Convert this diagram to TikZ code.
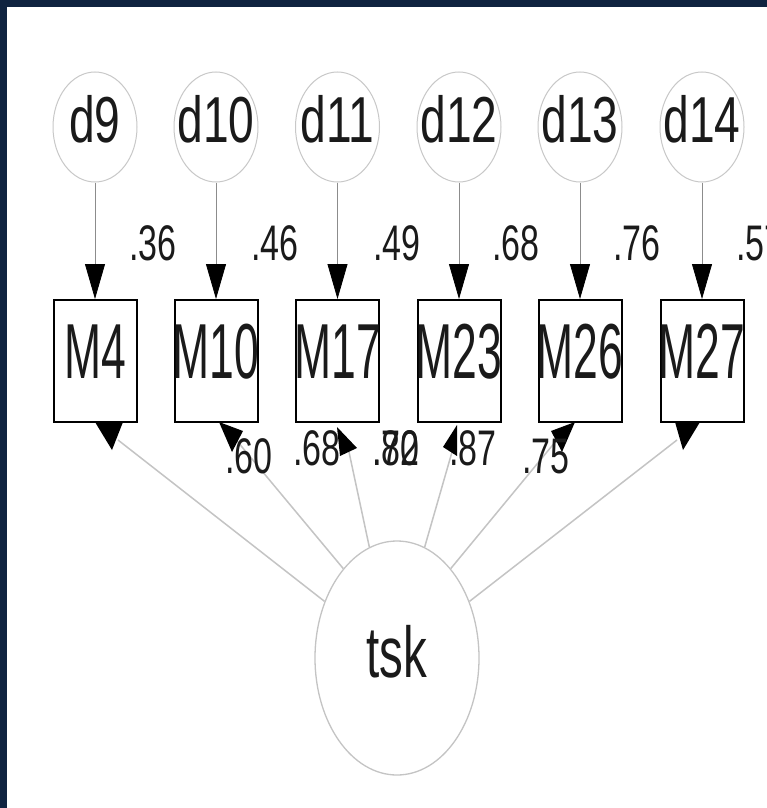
\documentclass[tikz,border=0pt]{standalone}
\usepackage{fontspec}
\usepackage{graphicx}
\setmainfont{Liberation Sans}
\usetikzlibrary{shapes.geometric,arrows.meta}
\definecolor{navy}{HTML}{0F2340}
\definecolor{ink}{HTML}{1A1A1A}
\definecolor{dline}{HTML}{C8C8C8}
\definecolor{vline}{HTML}{8C8C8C}
\definecolor{tline}{HTML}{C4C4C4}
\newcommand{\sqtxt}[4]{\makebox[0pt]{\smash{\raisebox{#2}{\fontsize{#3}{#3}\selectfont\scalebox{#1}[1]{#4}}}}}
\newcommand{\dlbl}[1]{\sqtxt{0.71}{-15pt}{65}{#1}}
\newcommand{\mlbl}[1]{\sqtxt{0.57}{-17pt}{78}{#1}}
\newcommand{\nlbl}[1]{\scalebox{0.68}[1]{#1}}
\begin{document}
\begin{tikzpicture}[x=1pt,y=-1pt,
  dnode/.style={ellipse, draw=dline, line width=1pt, minimum width=84pt, minimum height=110pt, inner sep=0pt, text=ink},
  mbox/.style={rectangle, draw=black, line width=2pt, fill=white, minimum width=83pt, minimum height=122pt, inner sep=0pt, text=ink},
  lnode/.style={ellipse, draw=tline, line width=1.3pt, minimum width=164pt, minimum height=234pt, inner sep=0pt, text=ink},
  num/.style={anchor=base, inner sep=0pt, text=ink, font=\fontsize{50}{50}\selectfont},
  darr/.style={draw=vline, line width=0.8pt, -{Triangle[length=35pt,width=20pt,color=black]}},
  tl/.style={draw=tline, line width=1.5pt},
  head/.style={fill=black}
]
\fill[navy] (0,0) rectangle (767,808);
\fill[white] (7,7) rectangle (767,808);
\useasboundingbox (0,0) rectangle (767,808);
\clip (0,0) rectangle (767,808);

% error terms
\node[dnode] (d9)  at (95,127)  {\dlbl{d9}};
\node[dnode] (d10) at (216,127) {\dlbl{d10}};
\node[dnode] (d11) at (337.5,127) {\dlbl{d11}};
\node[dnode] (d12) at (459,127) {\dlbl{d12}};
\node[dnode] (d13) at (580,127) {\dlbl{d13}};
\node[dnode] (d14) at (702,127) {\dlbl{d14}};

% latent
\node[lnode] (tsk) at (397,658) {\sqtxt{0.66}{-19pt}{72}{tsk}};

% line ends near boxes
\coordinate (e4)  at (118,440);
\coordinate (e10) at (237,441);
\coordinate (e17) at (349,452);
\coordinate (e23) at (452,452);
\coordinate (e26) at (556,441);
\coordinate (e27) at (677,440);
\draw[tl] (tsk.142) -- (e4);
\draw[tl] (tsk.121) -- (e10);
\draw[tl] (tsk.104) -- (e17);
\draw[tl] (tsk.76)  -- (e23);
\draw[tl] (tsk.59)  -- (e26);
\draw[tl] (tsk.38)  -- (e27);

% observed
\node[mbox] (m4)  at (95,361)  {\mlbl{M4}};
\node[mbox] (m10) at (216,361) {\mlbl{M10}};
\node[mbox] (m17) at (337.5,361) {\mlbl{M17}};
\node[mbox] (m23) at (459,361) {\mlbl{M23}};
\node[mbox] (m26) at (580,361) {\mlbl{M26}};
\node[mbox] (m27) at (702,361) {\mlbl{M27}};

\draw[darr] (d9)  -- (m4);
\draw[darr] (d10) -- (m10);
\draw[darr] (d11) -- (m17);
\draw[darr] (d12) -- (m23);
\draw[darr] (d13) -- (m26);
\draw[darr] (d14) -- (m27);

% arrow heads at the box bottoms
\fill[head] (95,422) -- (123,422) -- (112,450) -- cycle;
\fill[head] (219,422) -- (243,431) -- (232,452) -- cycle;
\fill[head] (337,427) -- (357,448) -- (340,456) -- cycle;
\fill[head] (457,425) -- (443,447) -- (457,456) -- cycle;
\fill[head] (575,422) -- (551,431) -- (562,452) -- cycle;
\fill[head] (675,422) -- (700,422) -- (683,450) -- cycle;

% weights d -> M
\node[num] (w9)  at (153,260) {\nlbl{.36}};
\node[num] (w10) at (275,260) {\nlbl{.46}};
\node[num] (w11) at (397,260) {\nlbl{.49}};
\node[num] (w12) at (516,260) {\nlbl{.68}};
\node[num] (w13) at (637,260) {\nlbl{.76}};
\node[num] (w14) at (760,260) {\nlbl{.57}};

% loadings
\node[num] (l10) at (249,473) {\nlbl{.60}};
\node[num] (l17) at (317,465) {\nlbl{.68}};
\node[num] (l23a) at (396,465) {\nlbl{.80}};
\node[num] (l23b) at (396,465) {\nlbl{.72}};
\node[num] (l26) at (473,465) {\nlbl{.87}};
\node[num] (l27) at (546,473) {\nlbl{.75}};
\end{tikzpicture}
\end{document}
